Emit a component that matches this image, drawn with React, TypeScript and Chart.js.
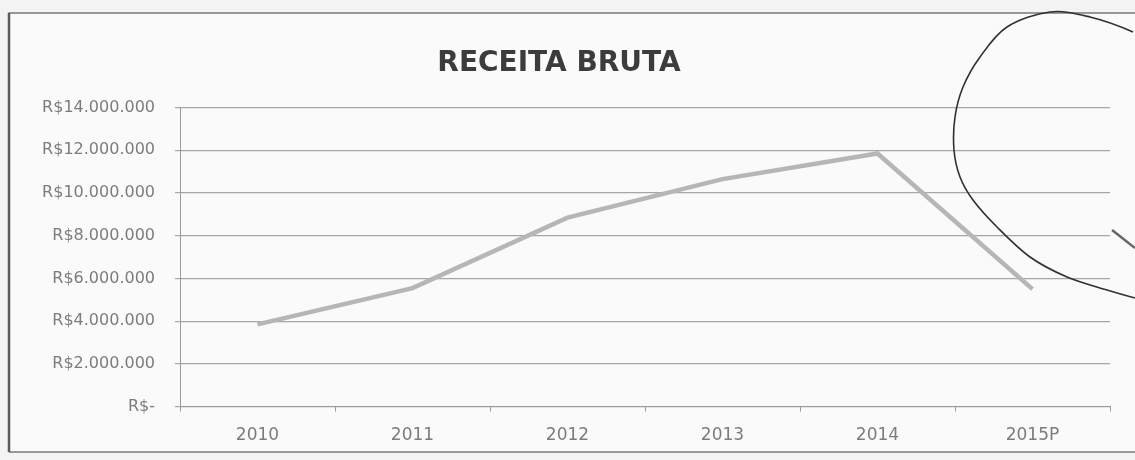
import React, { useEffect, useRef } from "react";
import { Chart, registerables } from "chart.js";

Chart.register(...registerables);

const TITLE = "RECEITA BRUTA";
const categories = ["2010", "2011", "2012", "2013", "2014", "2015P"];
const receita = [3850000, 5550000, 8850000, 10650000, 11850000, 5500000];
const yTicks = [0, 2000000, 4000000, 6000000, 8000000, 10000000, 12000000, 14000000];

function fmt(v: number): string {
  if (v === 0) return "R$-";
  return "R$" + v.toLocaleString("de-DE");
}

// hand-drawn pen circle around the forecast area (annotation, not data)
const penPath: [number, number][] = [
  [1160, 304], [1135, 298], [1107, 290], [1067, 277], [1030, 257], [997, 227],
  [973, 200], [960, 177], [954, 150], [955, 117], [963, 87], [980, 57],
  [1007, 27], [1050, 12], [1090, 17], [1133, 32], [1160, 48],
];

const penMarks = {
  id: "penMarks",
  afterDraw(chart: any) {
    const ctx = chart.ctx;
    ctx.save();
    ctx.strokeStyle = "#303030";
    ctx.lineWidth = 1.6;
    ctx.lineJoin = "round";
    ctx.beginPath();
    ctx.moveTo(penPath[1][0], penPath[1][1]);
    for (let i = 1; i < penPath.length - 2; i++) {
      const p0 = penPath[i - 1], p1 = penPath[i], p2 = penPath[i + 1], p3 = penPath[i + 2];
      ctx.bezierCurveTo(
        p1[0] + (p2[0] - p0[0]) / 6, p1[1] + (p2[1] - p0[1]) / 6,
        p2[0] - (p3[0] - p1[0]) / 6, p2[1] - (p3[1] - p1[1]) / 6,
        p2[0], p2[1]
      );
    }
    ctx.stroke();
    ctx.lineWidth = 2.5;
    ctx.strokeStyle = "#666";
    ctx.beginPath();
    ctx.moveTo(1112, 230);
    ctx.lineTo(1135, 248);
    ctx.stroke();
    ctx.restore();
  },
};

const frame = {
  id: "frame",
  beforeDraw(chart: any) {
    const ctx = chart.ctx;
    ctx.save();
    ctx.fillStyle = "#f3f3f3";
    ctx.fillRect(0, 0, chart.width, chart.height);
    ctx.fillStyle = "#fafafa";
    ctx.fillRect(9, 13, 1126, 439);
    ctx.strokeStyle = "#7a7a7a";
    ctx.lineWidth = 1.5;
    ctx.beginPath();
    ctx.moveTo(9, 452);
    ctx.lineTo(9, 13);
    ctx.lineTo(1135, 13);
    ctx.moveTo(9, 452);
    ctx.lineTo(1135, 452);
    ctx.stroke();
    ctx.strokeStyle = "#5a5a5a";
    ctx.lineWidth = 2.5;
    ctx.beginPath();
    ctx.moveTo(9, 13);
    ctx.lineTo(9, 452);
    ctx.stroke();
    ctx.restore();
  },
};

export default function App() {
  const ref = useRef<HTMLCanvasElement | null>(null);
  useEffect(() => {
    document.body.style.margin = "0";
    const chart = new Chart(ref.current as HTMLCanvasElement, {
      type: "line",
      data: {
        labels: categories,
        datasets: [
          {
            label: "Receita Bruta",
            data: receita,
            borderColor: "#b6b6b6",
            borderWidth: 4.5,
            pointRadius: 0,
            tension: 0,
            fill: false,
          },
        ],
      },
      options: {
        responsive: false,
        animation: false,
        layout: { padding: { left: 8, right: 25, top: 12, bottom: 0 } },
        plugins: {
          legend: { display: false },
          tooltip: { enabled: false },
          title: {
            display: true,
            text: TITLE,
            color: "#3c3c3c",
            font: { family: "DejaVu Sans", size: 28, weight: "bold" },
            padding: { top: 35, bottom: 27 },
          },
        },
        scales: {
          x: {
            offset: true,
            grid: {
              display: true,
              drawOnChartArea: false,
              offset: true,
              color: "#9a9a9a",
              tickLength: 5,
            },
            border: { color: "#9a9a9a" },
            ticks: {
              color: "#7c7c7c",
              font: { family: "DejaVu Sans", size: 17 },
              padding: 14,
            },
          },
          y: {
            min: 0,
            max: 14000000,
            afterBuildTicks: (s: any) => {
              s.ticks = yTicks.map((v) => ({ value: v }));
            },
            afterFit: (s: any) => {
              s.width = 172;
            },
            grid: { color: "#a6a6a6", tickLength: 5, lineWidth: 1.2 },
            border: { color: "#9a9a9a" },
            ticks: {
              color: "#7c7c7c",
              font: { family: "DejaVu Sans", size: 16 },
              padding: 20,
              callback: (v: any) => fmt(Number(v)),
            },
          },
        },
      },
      plugins: [frame, penMarks],
    });
    return () => chart.destroy();
  }, []);
  return (
    <div style={{ width: 1135, height: 460 }}>
      <canvas ref={ref} width={1135} height={460} />
    </div>
  );
}
